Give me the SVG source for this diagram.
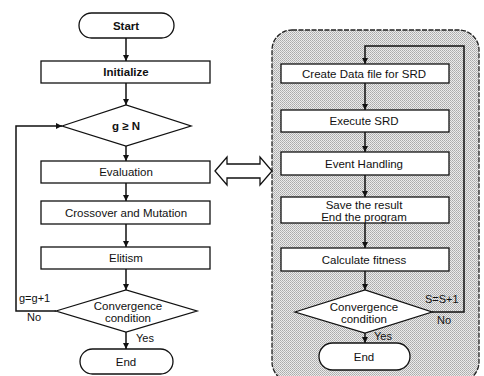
<svg xmlns="http://www.w3.org/2000/svg" width="484" height="376" viewBox="0 0 484 376">
<defs>
<marker id="ah" viewBox="0 0 8 8" refX="8" refY="4" markerWidth="6" markerHeight="6" markerUnits="userSpaceOnUse" orient="auto">
<path d="M0,0 L8,4 L0,8 z" fill="#111"/>
</marker>
<pattern id="dots" width="2" height="2" patternUnits="userSpaceOnUse">
<rect width="2" height="2" fill="#ebebeb"/>
<rect width="1" height="1" fill="#aaaaaa"/>
<rect x="1" y="1" width="1" height="1" fill="#b8b8b8"/>
</pattern>
<style>
.box{fill:#fff;stroke:#111;stroke-width:1.3}
.t{font-family:"Liberation Sans",Arial,sans-serif;font-size:11.5px;fill:#111;text-anchor:middle}
.b{font-weight:bold}
.s{font-family:"Liberation Sans",Arial,sans-serif;font-size:11px;fill:#111}
.c{fill:none;stroke:#111;stroke-width:1.5}
</style>
</defs>
<rect width="484" height="376" fill="#fff"/>
<g id="panel">
<rect x="272" y="30" width="207" height="352" rx="20" fill="url(#dots)" stroke="#222" stroke-width="1.3" stroke-dasharray="5 1.5"/>
</g>
<g id="connectors">
<line class="c" x1="126" y1="38" x2="126" y2="61" marker-end="url(#ah)"/>
<line class="c" x1="126" y1="83" x2="126" y2="105" marker-end="url(#ah)"/>
<line class="c" x1="126" y1="146" x2="126" y2="161" marker-end="url(#ah)"/>
<line class="c" x1="126" y1="183" x2="126" y2="201" marker-end="url(#ah)"/>
<line class="c" x1="126" y1="224" x2="126" y2="247" marker-end="url(#ah)"/>
<line class="c" x1="126" y1="269" x2="126" y2="290" marker-end="url(#ah)"/>
<line class="c" x1="126" y1="332" x2="126" y2="349" marker-end="url(#ah)"/>
<polyline class="c" points="56,311 16,311 16,126 62,126" marker-end="url(#ah)"/>
<line class="c" x1="365" y1="83" x2="365" y2="110" marker-end="url(#ah)"/>
<line class="c" x1="365" y1="132" x2="365" y2="152" marker-end="url(#ah)"/>
<line class="c" x1="365" y1="175" x2="365" y2="197" marker-end="url(#ah)"/>
<line class="c" x1="365" y1="223" x2="365" y2="248" marker-end="url(#ah)"/>
<line class="c" x1="365" y1="271" x2="365" y2="290" marker-end="url(#ah)"/>
<line class="c" x1="365" y1="333" x2="365" y2="343" marker-end="url(#ah)"/>
<polyline class="c" points="432,312 464,312 464,46 365,46 365,64" marker-end="url(#ah)"/>
<polygon id="link" points="215,171 227,157 227,164 260,164 260,157 272,171 260,185 260,178 227,178 227,185" fill="#fff" stroke="#111" stroke-width="1.3"/>
<text class="s" x="19" y="302">g=g+1</text>
<text class="s" x="27" y="321">No</text>
<text class="s" x="136" y="342">Yes</text>
<text class="s" x="425" y="303">S=S+1</text>
<text class="s" x="437" y="324">No</text>
<text class="s" x="374" y="340">Yes</text>
</g>
<g id="start"><rect class="box" x="79" y="13" width="95" height="25" rx="12.5"/><text class="t b" x="126" y="29.5">Start</text></g>
<g id="init"><rect class="box" x="41" y="61" width="169" height="22"/><text class="t b" x="126" y="76">Initialize</text></g>
<g id="cond1"><polygon class="box" points="62,126 126,105 191,126 126,146"/><text class="t b" x="126" y="130">g ≥ N</text></g>
<g id="eval"><rect class="box" x="41" y="161" width="169" height="22"/><text class="t" x="126" y="176">Evaluation</text></g>
<g id="cross"><rect class="box" x="41" y="201" width="169" height="23"/><text class="t" x="126" y="216.5">Crossover and Mutation</text></g>
<g id="elit"><rect class="box" x="41" y="247" width="169" height="22"/><text class="t" x="126" y="262">Elitism</text></g>
<g id="conv1"><polygon class="box" points="56,311 126,290 197,311 126,332"/><text class="t" x="128" y="310">Convergence</text><text class="t" x="128" y="322">condition</text></g>
<g id="end1"><rect class="box" x="80" y="349" width="93" height="25" rx="12.5"/><text class="t" x="126" y="366">End</text></g>
<g id="create"><rect class="box" x="281" y="64" width="168" height="19"/><text class="t" x="364" y="77.5">Create Data file for SRD</text></g>
<g id="exec"><rect class="box" x="281" y="110" width="168" height="22"/><text class="t" x="364" y="125">Execute SRD</text></g>
<g id="event"><rect class="box" x="281" y="152" width="168" height="23"/><text class="t" x="364" y="167.5">Event Handling</text></g>
<g id="save"><rect class="box" x="281" y="197" width="168" height="26"/><text class="t" x="364" y="208.5">Save the result</text><text class="t" x="364" y="220.5">End the program</text></g>
<g id="calc"><rect class="box" x="281" y="248" width="168" height="23"/><text class="t" x="364" y="263.5">Calculate fitness</text></g>
<g id="conv2"><polygon class="box" points="295,312 365,290 432,312 365,333"/><text class="t" x="364" y="311">Convergence</text><text class="t" x="364" y="323">condition</text></g>
<g id="end2"><rect class="box" x="319" y="343" width="91" height="27" rx="13.5"/><text class="t" x="364" y="361">End</text></g>
</svg>
